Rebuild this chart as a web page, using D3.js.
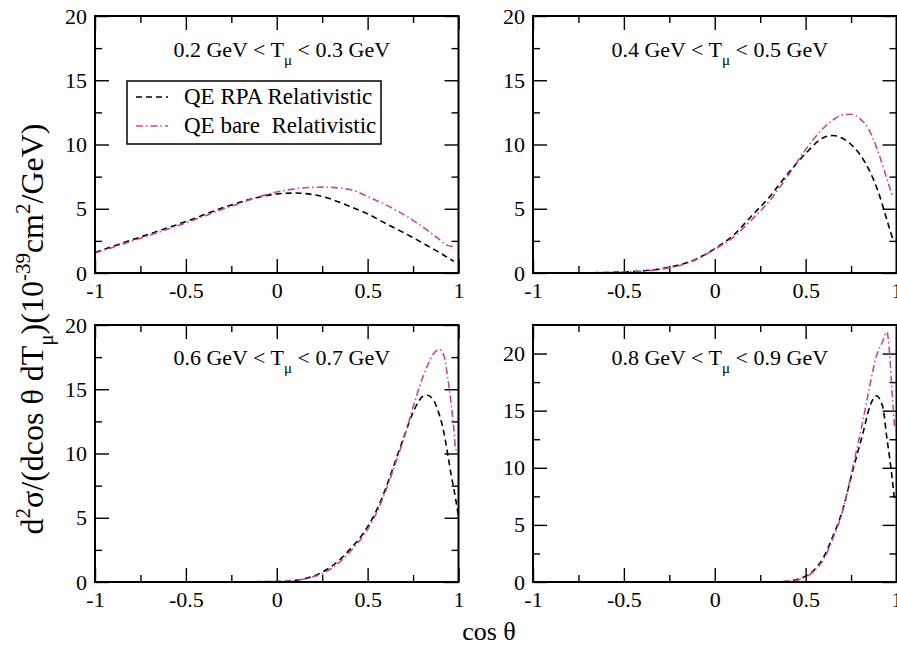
<!DOCTYPE html>
<html lang="en">

<head>
    <meta charset="UTF-8">
    <title>QE cross sections</title>
    <style>
        body {
            margin: 0;
            background: #fff;
        }
    </style>
</head>

<body>
    <svg width="897" height="645"></svg>
    <script src="https://d3js.org/d3.v7.min.js"></script>
    <script>
        // muon kinetic energy bins (GeV)
        let tLow = [0.2, 0.4, 0.6, 0.8],
            tHigh = [0.3, 0.5, 0.7, 0.9],
            yMax = [20, 20, 20, 22.5];

        let xMajor = [-1, -0.5, 0, 0.5, 1],
            xMinor = [-0.75, -0.25, 0.25, 0.75],
            yMajor = [0, 5, 10, 15, 20],
            yMinor = [2.5, 7.5, 12.5, 17.5];

        let seriesNames = ["QE RPA Relativistic", "QE bare  Relativistic"];

        // panel 1: 0.2 < T < 0.3
        let cos1 = [-1, -0.75, -0.5, -0.25, 0, 0.1, 0.25, 0.4, 0.5, 0.6, 0.75, 0.85, 0.9, 0.94, 0.975],
            rpa1 = [1.6, 2.8, 4.0, 5.3, 6.15, 6.22, 5.95, 5.2, 4.6, 3.85, 2.75, 1.95, 1.55, 1.2, 0.9],
            bare1 = [1.55, 2.7, 3.9, 5.2, 6.3, 6.55, 6.68, 6.5, 5.95, 5.3, 4.1, 3.1, 2.55, 2.15, 2.05];

        // panel 2: 0.4 < T < 0.5
        let cos2 = [-1, -0.75, -0.5, -0.25, -0.1, 0, 0.1, 0.2, 0.3, 0.4, 0.5, 0.6, 0.65, 0.7, 0.75, 0.8, 0.85, 0.9, 0.95, 0.98],
            rpa2 = [0, 0.01, 0.08, 0.45, 1.1, 1.9, 2.9, 4.4, 5.9, 7.7, 9.3, 10.55, 10.7, 10.5, 10.0, 9.2, 8.0, 6.3, 4.0, 2.6],
            bare2 = [0, 0.01, 0.07, 0.4, 1.05, 1.85, 2.75, 4.1, 5.6, 7.5, 9.6, 11.3, 11.9, 12.3, 12.35, 12.0, 11.1, 9.4, 7.2, 5.9];

        // panel 3: 0.6 < T < 0.7
        let cos3 = [-1, -0.5, 0, 0.1, 0.2, 0.3, 0.4, 0.5, 0.55, 0.6, 0.65, 0.7, 0.75, 0.8, 0.825, 0.86, 0.895, 0.92, 0.94, 0.96, 0.975, 0.985, 1],
            rpa3 = [0, 0, 0.04, 0.13, 0.45, 1.2, 2.5, 4.3, 5.6, 7.3, 9.3, 11.3, 13.2, 14.4, 14.55, 14.2, 13.0, 11.6, 10.0, 8.3, 7.2, 6.4, 5.05],
            bare3 = [0, 0, 0.03, 0.12, 0.4, 1.05, 2.3, 4.1, 5.4, 7.1, 9.1, 11.2, 13.6, 15.8, 16.7, 17.7, 18.1, 17.6, 16.0, 13.8, 11.8, 10.3, 10.5];

        // panel 4: 0.8 < T < 0.9
        let cos4 = [-1, -0.5, 0, 0.3, 0.4, 0.47, 0.55, 0.6, 0.65, 0.7, 0.76, 0.815, 0.852, 0.888, 0.925, 0.947, 0.962, 0.976, 0.99],
            rpa4 = [0, 0, 0, 0.01, 0.06, 0.3, 1.1, 2.2, 4.0, 6.1, 9.8, 13.0, 15.3, 16.3, 15.3, 12.6, 10.9, 9.1, 7.0],
            bare4 = [0, 0, 0, 0.01, 0.05, 0.25, 1.0, 2.0, 3.8, 6.0, 10.1, 14.1, 17.1, 19.7, 21.1, 21.9, 20.0, 16.5, 13.5];

        let cosData = [cos1, cos2, cos3, cos4],
            rpaData = [rpa1, rpa2, rpa3, rpa4],
            bareData = [bare1, bare2, bare3, bare4];

        let serif = "'Liberation Serif', 'Times New Roman', Times, serif",
            magenta = "#c445ac";

        let svg = d3.select("svg"),
            panelW = 363.5,
            panelH = 257,
            lefts = [95, 533, 95, 533],
            tops = [16, 16, 325, 325];

        let styleRpa = s => s.attr("fill", "none").attr("stroke", "#000")
            .attr("stroke-width", 1.6).attr("stroke-dasharray", "6,4");
        let styleBare = s => s.attr("fill", "none").attr("stroke", magenta)
            .attr("stroke-width", 1.6).attr("stroke-dasharray", "7,3,1.5,3");

        cosData.forEach(function (cs, i) {
            let g = svg.append("g").attr("transform", `translate(${lefts[i]},${tops[i]})`);

            let x = d3.scaleLinear().domain([-1, 1]).range([0, panelW]),
                y = d3.scaleLinear().domain([0, yMax[i]]).range([panelH, 0]);

            // ticks on all four sides, pointing inward
            let axes = [
                [d3.axisBottom(x).tickValues(xMajor).tickSize(-14).tickPadding(9).tickFormat(d => String(d)), `translate(0,${panelH})`],
                [d3.axisBottom(x).tickValues(xMinor).tickSize(-7).tickFormat(""), `translate(0,${panelH})`],
                [d3.axisTop(x).tickValues(xMajor).tickSize(-14).tickFormat(""), null],
                [d3.axisTop(x).tickValues(xMinor).tickSize(-7).tickFormat(""), null],
                [d3.axisLeft(y).tickValues(yMajor).tickSize(-14).tickPadding(8).tickFormat(d => String(d)), null],
                [d3.axisLeft(y).tickValues(yMinor).tickSize(-7).tickFormat(""), null],
                [d3.axisRight(y).tickValues(yMajor).tickSize(-14).tickFormat(""), `translate(${panelW},0)`],
                [d3.axisRight(y).tickValues(yMinor).tickSize(-7).tickFormat(""), `translate(${panelW},0)`]
            ];
            axes.forEach(function (a) {
                let ag = g.append("g").call(a[0])
                    .attr("font-family", serif)
                    .attr("font-size", 22);
                if (a[1]) ag.attr("transform", a[1]);
                ag.select(".domain").remove();
                ag.selectAll(".tick line").attr("stroke", "#000").attr("stroke-width", 1.4);
                ag.selectAll(".tick text")
                    .attr("fill", "#000")
                    .style("font-family", serif)
                    .style("font-size", "22px");
            });

            let line = d3.line()
                .x((d, k) => x(cs[k]))
                .y(d => y(d))
                .curve(d3.curveMonotoneX);

            g.append("path").attr("d", line(rpaData[i])).call(styleRpa);
            g.append("path").attr("d", line(bareData[i])).call(styleBare);

            g.append("rect")
                .attr("width", panelW)
                .attr("height", panelH)
                .attr("fill", "none")
                .attr("stroke", "#000")
                .attr("stroke-width", 2);

            // bin label
            let t = g.append("text")
                .attr("x", panelW / 2 + 5)
                .attr("y", i < 2 ? 41 : 40)
                .attr("text-anchor", "middle")
                .style("font-family", serif)
                .style("font-size", "22px");
            t.append("tspan").text(`${tLow[i]} GeV < T`);
            t.append("tspan").attr("dy", 8).style("font-size", "15px").text("μ");
            t.append("tspan").attr("dy", -8).text(` < ${tHigh[i]} GeV`);

            if (i === 0) {
                let leg = g.append("g").attr("transform", "translate(32,65)");
                leg.append("rect")
                    .attr("width", 254)
                    .attr("height", 63)
                    .attr("fill", "#fff")
                    .attr("stroke", "#000")
                    .attr("stroke-width", 1.5);
                [styleRpa, styleBare].forEach(function (st, k) {
                    let yy = 16 + k * 29;
                    leg.append("line")
                        .attr("x1", 9).attr("x2", 41)
                        .attr("y1", yy).attr("y2", yy)
                        .call(st);
                    leg.append("text")
                        .attr("x", 57)
                        .attr("y", yy + 7)
                        .style("font-family", serif)
                        .style("font-size", "23px")
                        .style("white-space", "pre")
                        .text(seriesNames[k]);
                });
            }
        });

        // shared axis titles
        let yl = svg.append("text")
            .attr("transform", "translate(43,329) rotate(-90)")
            .attr("text-anchor", "middle")
            .style("font-family", serif)
            .style("font-size", "32px");
        yl.append("tspan").text("d");
        yl.append("tspan").attr("dy", -13).style("font-size", "21px").text("2");
        yl.append("tspan").attr("dy", 13).text("σ/(dcos θ dT");
        yl.append("tspan").attr("dy", 10).style("font-size", "21px").text("μ");
        yl.append("tspan").attr("dy", -10).text(")(10");
        yl.append("tspan").attr("dy", -13).style("font-size", "21px").text("-39");
        yl.append("tspan").attr("dy", 13).text("cm");
        yl.append("tspan").attr("dy", -13).style("font-size", "21px").text("2");
        yl.append("tspan").attr("dy", 13).text("/GeV)");

        svg.append("text")
            .attr("x", 489)
            .attr("y", 640)
            .attr("text-anchor", "middle")
            .style("font-family", serif)
            .style("font-size", "26px")
            .text("cos θ");
    </script>

</body>

</html>
